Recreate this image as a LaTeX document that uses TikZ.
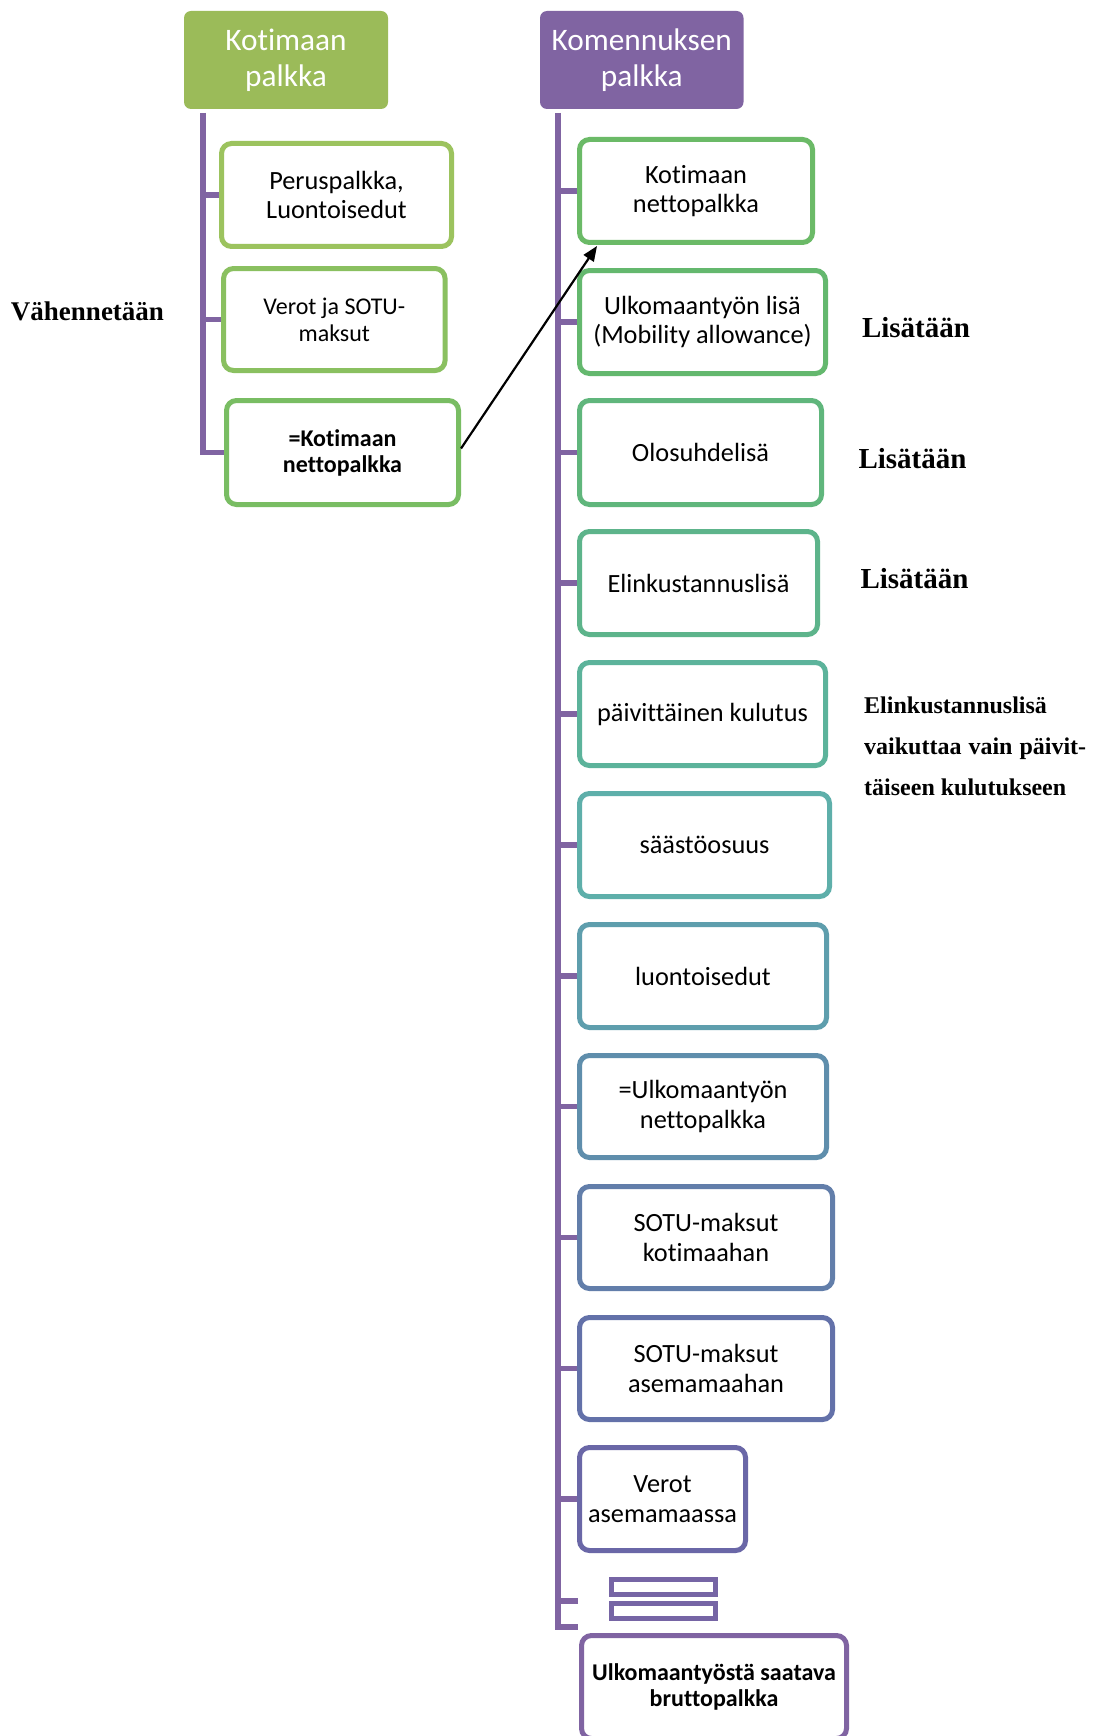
\documentclass[tikz,border=0pt]{standalone}
\usepackage{fontspec}
\setmainfont{Carlito}[Ligatures={NoCommon,TeX}]
\newfontfamily\tnr{Liberation Serif}
\usetikzlibrary{arrows.meta}
\definecolor{hgreen}{HTML}{9BBB59}
\definecolor{hpurple}{HTML}{8064A2}
\definecolor{barc}{HTML}{8064A2}
\definecolor{cb1}{HTML}{9CC35E}
\definecolor{cb2}{HTML}{8AC060}
\definecolor{cb3}{HTML}{79BD63}
\definecolor{cr1}{HTML}{6BBA67}
\definecolor{cr2}{HTML}{64B86E}
\definecolor{cr3}{HTML}{60B67C}
\definecolor{cr4}{HTML}{5DB48B}
\definecolor{cr5}{HTML}{5CB39B}
\definecolor{cr6}{HTML}{5EAFAA}
\definecolor{cr7}{HTML}{5E9EAD}
\definecolor{cr8}{HTML}{5F8EAC}
\definecolor{cr9}{HTML}{627EAA}
\definecolor{cr10}{HTML}{6371A9}
\definecolor{cr11}{HTML}{6A67A7}
\definecolor{ceq}{HTML}{7665A5}
\definecolor{cfin}{HTML}{8064A2}
\begin{document}
\begin{tikzpicture}[x=1pt,y=-1pt,
  hdr/.style={rounded corners=7pt, text=white, align=center, font=\fontsize{31.3}{35.6}\selectfont, inner sep=0pt},
  box/.style={draw=#1, line width=5pt, rounded corners=10pt, fill=white, align=center, font=\fontsize{26.3}{29.5}\selectfont, inner sep=0pt, minimum height=103pt},
  boldbox/.style={box=#1, font=\bfseries\fontsize{24}{26}\selectfont},
  eqbox/.style={draw=ceq, line width=5pt, fill=white, inner sep=0pt, minimum width=104pt, minimum height=15pt},
  bar/.style={draw=barc, line width=5.5pt, line join=miter},
  lbl/.style={font=\tnr\bfseries\fontsize{29}{34}\selectfont, anchor=base, inner sep=0pt},
  note/.style={font=\tnr\bfseries\fontsize{24}{41}\selectfont, anchor=base west, inner sep=0pt},
  arr/.style={-{Triangle[length=15pt,width=12pt]}, line width=2.2pt}
]
\useasboundingbox (0,0) rectangle (1092,1736);
\fill[white] (0,0) rectangle (1092,1736);
\clip (0,0) rectangle (1092,1736);

% bars
\coordinate (lb) at (203,113);
\coordinate (rb) at (558,113);
\coordinate (rbend) at (578,1627);
\coordinate (eqt) at (578,1601);

% headers
\node[hdr, fill=hgreen, minimum width=204pt, minimum height=98pt] (hk) at (286,60) {Kotimaan\\palkka};
\node[hdr, fill=hpurple, minimum width=203.5pt, minimum height=98pt] (hr) at (641.75,60) {Komennuksen\\palkka};

% left boxes
\node[box=cb1, minimum width=230pt] (b1) at (336.5,195) {Peruspalkka,\\Luontoisedut};
\node[box=cb2, minimum width=221.5pt, minimum height=102pt, font=\fontsize{24}{27}\selectfont] (b2) at (334.3,319.5) {Verot ja SOTU-\\maksut};
\node[boldbox=cb3, minimum width=232pt, minimum height=104pt] (b3) at (342.5,452.5) {=Kotimaan\\nettopalkka};

% right boxes
\node[box=cr1, minimum width=233pt] (r1) at (696,191) {Kotimaan\\nettopalkka};
\node[box=cr2, minimum width=246pt] (r2) at (702.5,322) {Ulkomaantyön lisä\\(Mobility allowance)};
\node[box=cr3, minimum width=242pt, minimum height=104pt] (r3) at (700.5,452.5) {Olosuhdelisä};
\node[box=cr4, minimum width=238pt] (r4) at (698.5,583) {Elinkustannuslisä};
\node[box=cr5, minimum width=246pt] (r5) at (702.5,714) {päivittäinen kulutus};
\node[box=cr6, minimum width=250pt] (r6) at (704.5,845) {säästöosuus};
\node[box=cr7, minimum width=247pt] (r7) at (703,976) {luontoisedut};
\node[box=cr8, minimum width=247pt, minimum height=102pt] (r8) at (703,1106.5) {=Ulkomaantyön\\nettopalkka};
\node[box=cr9, minimum width=253pt, minimum height=102pt] (r9) at (706,1237.5) {SOTU-maksut\\kotimaahan};
\node[box=cr10, minimum width=253pt, minimum height=102pt] (r10) at (706,1368.5) {SOTU-maksut\\asemamaahan};
\node[box=cr11, minimum width=166pt] (r11) at (662.5,1499) {Verot\\asemamaassa};
\node[eqbox] (eq1) at (663.5,1587) {};
\node[eqbox] (eq2) at (663.5,1611) {};
\node[boldbox=cfin, minimum width=265pt] (fin) at (714,1687) {Ulkomaantyöstä saatava\\bruttopalkka};

% connector bars
\draw[bar] (lb) |- (b3.west);
\foreach \n in {b1,b2} \draw[bar] (\n.west) -- (\n.west -| lb);
\draw[bar] (rb) |- (rbend);
\foreach \n in {r1,r2,r3,r4,r5,r6,r7,r8,r9,r10,r11} \draw[bar] (\n.west) -- (\n.west -| rb);
\draw[bar] (eqt) -- (eqt -| rb);

% side labels
\node[lbl, font=\tnr\bfseries\fontsize{27}{32}\selectfont] (vah) at (87.5,320) {Vähennetään};
\node[lbl] (lis1) at (916,337) {Lisätään};
\node[lbl] (lis2) at (912.5,468) {Lisätään};
\node[lbl] (lis3) at (914.5,588.5) {Lisätään};
\node[note] (n1) at (864,713) {Elinkustannuslisä};
\node[note] (n2) at (864,754) {\makebox[222pt][s]{vaikuttaa vain päivit-}};
\node[note] (n3) at (864,795) {täiseen kulutukseen};

% arrow
\draw[arr] ([yshift=4pt]b3.east) -- ([xshift=20pt,yshift=-1pt]r1.south west);
\end{tikzpicture}
\end{document}
